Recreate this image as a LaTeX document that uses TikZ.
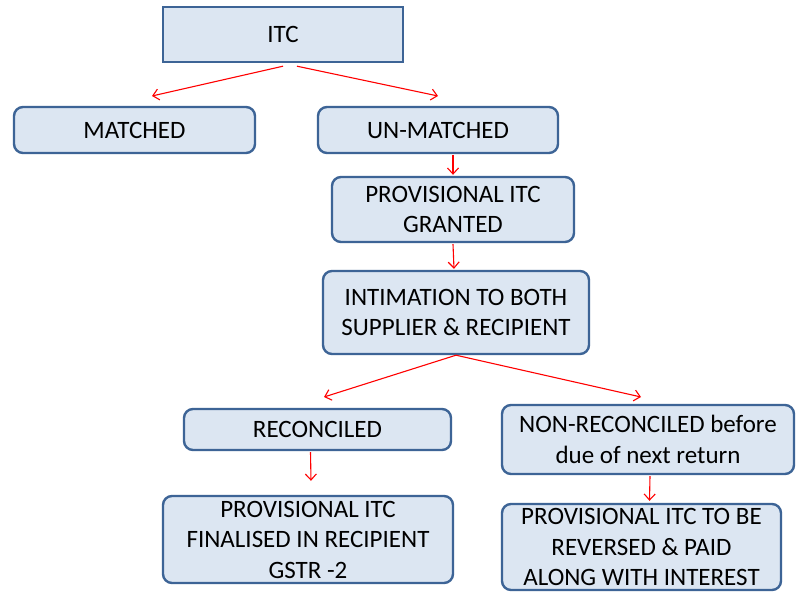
\documentclass[tikz,border=0pt]{standalone}
\usepackage{fontspec}
\setmainfont{Carlito}
\usetikzlibrary{arrows.meta}
\definecolor{boxfill}{HTML}{DCE6F2}
\definecolor{boxline}{HTML}{3D6496}
\tikzset{
  box/.style={draw=boxline, line width=2.4pt, fill=boxfill, rounded corners=9pt, align=center, inner sep=0pt,
    font=\fontsize{25}{30.5}\selectfont, text=black},
  sqbox/.style={box, rounded corners=0pt},
  arr/.style={draw=red, line width=1.1pt, -{Straight Barb[length=6pt,width=11pt,line width=1.1pt]}}
}
\begin{document}
\begin{tikzpicture}[x=1pt,y=-1pt]
\clip (0,0) rectangle (796,593);
\fill[white] (0,0) rectangle (796,593);
\node[sqbox, minimum width=240pt, minimum height=55pt] (itc) at (283,34.5) {ITC};
\node[box, minimum width=241pt, minimum height=46pt] (matched) at (134.5,130) {MATCHED};
\node[box, minimum width=240pt, minimum height=46pt] (unmatched) at (438,130) {UN-MATCHED};
\node[box, minimum width=242pt, minimum height=65pt] (prov) at (453,209.5) {PROVISIONAL ITC\\GRANTED};
\node[box, minimum width=266pt, minimum height=83pt] (intim) at (456,312.5) {INTIMATION TO BOTH\\SUPPLIER \& RECIPIENT};
\node[box, minimum width=267pt, minimum height=41pt] (recon) at (317.5,429.5) {RECONCILED};
\node[box, minimum width=292pt, minimum height=69pt] (nonrecon) at (648,439.5) {NON-RECONCILED before\\due of next return};
\node[box, minimum width=290pt, minimum height=87pt] (final) at (308,539.5) {PROVISIONAL ITC\\FINALISED IN RECIPIENT\\GSTR -2};
\node[box, minimum width=279pt, minimum height=86pt] (rev) at (641.5,547) {PROVISIONAL ITC TO BE\\REVERSED \& PAID\\ALONG WITH INTEREST};
\coordinate (a1) at (152,96);
\coordinate (a2) at (438,96);
\draw[arr] ([xshift=0pt,yshift=-3pt]itc.south) -- (a1);
\draw[arr] ([xshift=14pt,yshift=-3pt]itc.south) -- (a2);
\draw[arr] ([xshift=15pt,yshift=-1pt]unmatched.south) -- ([yshift=1pt]prov.north);
\draw[arr] ([yshift=-1pt]prov.south) -- ([xshift=-2pt,yshift=1pt]intim.north);
\coordinate (b1) at (324,397);
\coordinate (b2) at (641,397);
\draw[arr] (intim.south) -- (b1);
\draw[arr] (intim.south) -- (b2);
\draw[arr] ([xshift=-7pt,yshift=-1pt]recon.south) -- ([xshift=3pt,yshift=14pt]final.north);
\draw[arr] ([xshift=2pt,yshift=-1pt]nonrecon.south) -- ([xshift=8pt,yshift=2pt]rev.north);
\end{tikzpicture}
\end{document}
